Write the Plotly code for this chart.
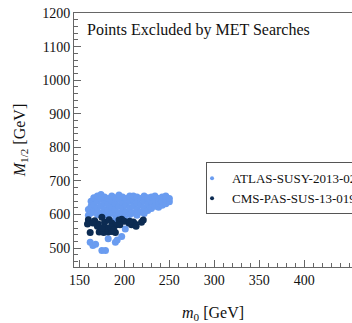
import plotly.graph_objects as go

# ATLAS-SUSY-2013-02 excluded points (m0, M1/2)
atlas_m0 = [160, 160, 163, 163, 163, 166, 166, 166, 170, 170, 170, 170,
            174, 174, 174, 174, 178, 178, 178, 178, 182, 182, 182, 182,
            186, 186, 186, 186, 190, 190, 190, 190, 194, 194, 194, 194,
            198, 198, 198, 198, 202, 202, 202, 206, 206, 206, 206,
            210, 210, 210, 210, 214, 214, 214, 214, 218, 218, 218,
            222, 222, 222, 222, 226, 226, 226, 230, 230, 230,
            234, 234, 234, 238, 238, 238, 242, 242, 242, 246, 246, 246, 250, 250,
            162, 165, 168, 175, 179, 182, 190, 192, 197, 201, 185, 195, 190, 200]
atlas_m12 = [598, 615, 605, 625, 640, 610, 630, 650, 600, 620, 640, 655,
             605, 625, 645, 660, 600, 615, 635, 652, 595, 612, 630, 648,
             605, 622, 640, 655, 598, 615, 633, 650, 605, 625, 645, 658,
             600, 618, 636, 652, 608, 628, 648, 600, 620, 640, 655,
             605, 625, 645, 655, 598, 615, 635, 652, 608, 628, 648,
             603, 620, 640, 655, 612, 632, 650, 618, 638, 652,
             625, 642, 655, 622, 635, 648, 628, 640, 652, 632, 645, 655, 638, 648,
             518, 508, 512, 493, 493, 528, 518, 524, 535, 557, 560, 575, 585, 590]

# CMS-PAS-SUS-13-019 excluded points (m0, M1/2)
cms_m0 = [160, 159, 162, 167, 171, 175, 178, 183, 186, 190, 172, 177, 182,
          186, 190, 194, 197, 200, 195, 205, 208, 210, 212, 206, 213, 221,
          219, 180, 185, 170, 165, 188, 175]
cms_m12 = [585, 572, 547, 582, 572, 592, 577, 585, 575, 568, 548, 547, 548,
           550, 547, 584, 586, 580, 570, 575, 570, 578, 572, 580, 565, 584,
           577, 560, 562, 565, 575, 555, 560]

names = ["ATLAS-SUSY-2013-02", "CMS-PAS-SUS-13-019"]
colors = ["#6a9cf0", "#0c2b52"]

serif = "Liberation Serif"

fig = go.Figure()
for xs, ys, name, col in [(atlas_m0, atlas_m12, names[0], colors[0]),
                          (cms_m0, cms_m12, names[1], colors[1])]:
    fig.add_trace(go.Scatter(x=xs, y=ys, mode="markers", showlegend=False,
                             marker=dict(size=7, color=col, line=dict(width=0))))
    fig.add_trace(go.Scatter(x=[None], y=[None], mode="markers", name=name,
                             marker=dict(size=4, color=col)))

fig.update_layout(
    width=352, height=323,
    margin=dict(l=74, r=0, t=13, b=56, autoexpand=False),
    paper_bgcolor="white", plot_bgcolor="white",
    font=dict(family=serif, size=14, color="#111"),
    showlegend=True,
    legend=dict(x=0.475, y=0.412, xanchor="left", yanchor="top",
                bgcolor="white", bordercolor="#555", borderwidth=1,
                font=dict(family=serif, size=13, color="#111"),
                indentation=-15, itemwidth=30),
    annotations=[dict(text="Points Excluded by MET Searches", x=0.04, y=0.935,
                      xref="paper", yref="paper", xanchor="left", yanchor="middle",
                      showarrow=False, font=dict(family=serif, size=16, color="#111"))],
)
fig.update_xaxes(range=[144, 453], showline=True, linecolor="#666", linewidth=1,
                 mirror=True, ticks="inside", ticklen=7, tickcolor="#666",
                 tickvals=[150, 200, 250, 300, 350, 400],
                 minor=dict(ticks="inside", ticklen=4, dtick=10, tick0=0, tickcolor="#666"),
                 showgrid=False, zeroline=False,
                 tickfont=dict(family=serif, size=14, color="#111"),
                 title=dict(text="<i>m</i><sub>0</sub> [GeV]", standoff=27,
                            font=dict(family=serif, size=16, color="#111")))
fig.update_yaxes(range=[444, 1200], showline=True, linecolor="#666", linewidth=1,
                 ticks="inside", ticklen=7, tickcolor="#666",
                 tickvals=[500, 600, 700, 800, 900, 1000, 1100, 1200],
                 minor=dict(ticks="inside", ticklen=4, dtick=20, tick0=0, tickcolor="#666"),
                 showgrid=False, zeroline=False,
                 tickfont=dict(family=serif, size=14, color="#111"),
                 title=dict(text="<i>M</i><sub>1/2</sub> [GeV]", standoff=12,
                            font=dict(family=serif, size=16, color="#111")))

fig.write_html("out.html")
